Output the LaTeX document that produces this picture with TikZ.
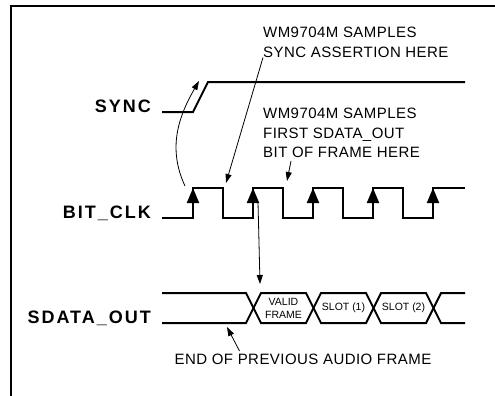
\documentclass[tikz,border=0pt]{standalone}
\usepackage{fontspec}
\setmainfont{Liberation Sans}
\usetikzlibrary{arrows.meta,calc}

\begin{document}
\begin{tikzpicture}[
x=1pt,y=-1pt,
wave/.style={line width=2pt,line join=miter},
arr/.style={-{Triangle[length=9pt,width=6pt]},line width=0.8pt},
clk/.style={-{Triangle[length=15pt,width=12pt]},line width=2pt},
sig/.style={font=\fontsize{18}{22}\selectfont\bfseries\addfontfeatures{LetterSpace=11},inner sep=0pt,anchor=base east},
note/.style={font=\fontsize{15}{19.5}\selectfont\addfontfeatures{LetterSpace=3},align=left,inner sep=0pt,anchor=north west},
slot/.style={font=\fontsize{10.5}{13}\selectfont,align=center,inner sep=0pt}
]
\useasboundingbox (0,0) rectangle (495,396);
\draw[line width=2pt] (11,396) -- (11,6) -- (495,6);
\node[sig] (sync) at (151,112) {SYNC};
\node[sig] (bitclk) at (151,218) {BIT\_CLK};
\node[sig] (sdata) at (151,323) {SDATA\_OUT};
\draw[wave] (162,112) -- (193,112) -- (208,82) -- (465,82);
\coordinate (syncedge) at (199,81);
\draw[wave] (162,218) foreach \x in {193,253,313,373} { -- (\x,218) -- (\x,188) -- (\x+30,188) -- (\x+30,218) } -- (433,218) -- (433,188) -- (465,188);
\foreach \x [count=\i] in {193,253,313,373,433}
  \draw[clk] (\x,218) -- (\x,188) coordinate (r\i);
\draw[wave] (162,293) -- (246,293) -- (261,323) -- (306,323) -- (321,293) -- (366,293) -- (381,323) -- (426,323) -- (441,293) -- (465,293);
\draw[wave] (162,323) -- (246,323) -- (261,293) -- (306,293) -- (321,323) -- (366,323) -- (381,293) -- (426,293) -- (441,323) -- (465,323);
\node[slot] (valid) at (283.5,308) {VALID\\FRAME};
\node[slot] (slot1) at (343.5,308) {SLOT (1)};
\node[slot] (slot2) at (403.5,308) {SLOT (2)};
\coordinate (fall1) at (226,183);
\coordinate (fall2) at (287,181);
\coordinate (xframe) at (260,284);
\coordinate (endprev) at (227,327);
\node[note] (assert) at (263,27) {WM9704M SAMPLES\\SYNC ASSERTION HERE};
\node[note] (firstbit) at (263,108) {WM9704M SAMPLES\\FIRST SDATA\_OUT\\BIT OF FRAME HERE};
\node[note,anchor=north] (endnote) at (303,354) {END OF PREVIOUS AUDIO FRAME};
\draw[arr] (assert.south west) -- (fall1);
\draw[arr] ($(firstbit.south west)+(28,3)$) -- (fall2);
\draw[arr] ($(r2)+(5,14)$) -- (xframe);
\draw[arr] ($(endnote.north west)+(65,-3)$) -- (endprev);
\draw[arr] ($(r1)+(-8,-2)$) to[out=115,in=240] (syncedge);
\end{tikzpicture}
\end{document}
